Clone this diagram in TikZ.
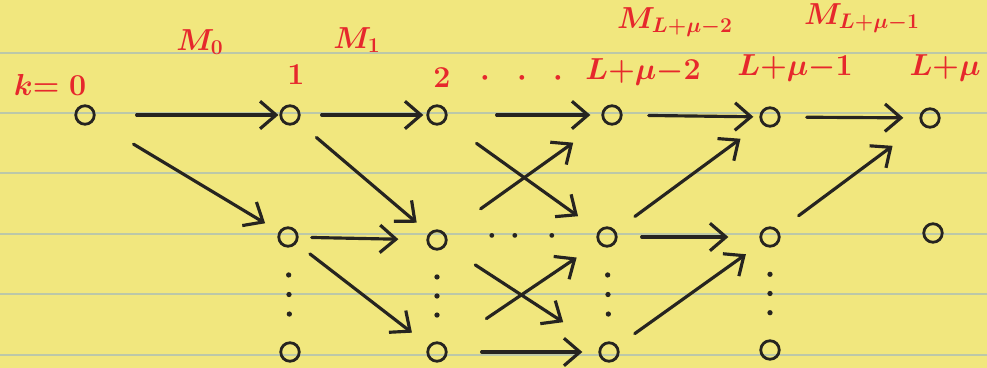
\documentclass[tikz,border=0pt]{standalone}
\usepackage{amsmath,amssymb}
\usepackage{xcolor}
\usepackage{tikz}
\usetikzlibrary{arrows.meta,positioning,calc}
\definecolor{Paper}{RGB}{241,231,126}
\definecolor{RuleC}{RGB}{188,200,168}
\definecolor{InkRed}{RGB}{230,40,44}
\definecolor{InkBk}{RGB}{38,36,32}
\tikzset{
  state/.style={circle,draw=InkBk,line width=1.6pt,minimum size=3.7mm,inner sep=0pt},
  br/.style={-{Straight Barb[length=3.2mm,width=5.5mm]},line width=1.8pt,InkBk,line cap=round},
  stagelbl/.style={text=InkRed,font=\fontsize{19}{22}\selectfont\boldmath},
  brlbl/.style={text=InkRed,font=\fontsize{18}{20}\selectfont\boldmath},
  ruleline/.style={RuleC,line width=0.8pt},
}

\begin{document}
\begin{tikzpicture}[x=0.02cm,y=-0.02cm]
  \fill[Paper] (0,0) rectangle (987,368);
  \useasboundingbox (0,0) rectangle (987,368);
  % ruled paper
  \foreach \y in {53,113,173,234,294,355}
    \draw[ruleline] (0,\y) -- (987,\y);

  % states
  \node[state] (s0t) at (85,115) {};
  \node[state] (s1t) at (290,115) {};
  \node[state] (s1m) at (288,237) {};
  \node[state] (s1b) at (290,352) {};
  \node[state] (s2t) at (437,115) {};
  \node[state] (s2m) at (437,240) {};
  \node[state] (s2b) at (437,352) {};
  \node[state] (s3t) at (612,115) {};
  \node[state] (s3m) at (607,237) {};
  \node[state] (s3b) at (609,352) {};
  \node[state] (s4t) at (770,117) {};
  \node[state] (s4m) at (770,237) {};
  \node[state] (s4b) at (770,350) {};
  \node[state] (s5t) at (930,118) {};
  \node[state] (s5m) at (933,233) {};

  % vertical dots
  \foreach \c in {1,...,4}
    \foreach \t in {0.33,0.5,0.67}
      \fill[InkBk] ($(s\c m)!\t!(s\c b)$) circle (1.5pt);
  \node[text=InkBk,font=\fontsize{19}{22}\selectfont\boldmath] (mdots) at (522,236) {$\cdot\,\cdot\;\;\cdot$};

  % stage labels
  \node[stagelbl] (k0) at (50,85) {$k{=}\;0$};
  \node[stagelbl] (k1) at (296,75) {$1$};
  \node[stagelbl] (k2) at (442,78) {$2$};
  \node[stagelbl] (kdots) at (522,78) {$\cdot\;\;\cdot\;\;\cdot$};
  \node[stagelbl] (kL2) at (643,72) {$L{+}\mu{-}2$};
  \node[stagelbl] (kL1) at (795,68) {$L{+}\mu{-}1$};
  \node[stagelbl] (kL) at (945,68) {$L{+}\mu$};

  % branch labels
  \node[brlbl] (m0) at (200,42) {$M_0$};
  \node[brlbl] (m1) at (357,40) {$M_1$};
  \node[brlbl] (mL2) at (675,22) {$M_{L{+}\mu{-}2}$};
  \node[brlbl] (mL1) at (862,18) {$M_{L{+}\mu{-}1}$};

  % branches
  \draw[br,shorten <=0.82cm,shorten >=0.5pt] (s0t) -- (s1t);
  \draw[br,shorten <=0.92cm,shorten >=0.32cm] (s0t) -- (s1m);
  \draw[br,shorten <=0.42cm,shorten >=0.06cm] (s1t) -- (s2t);
  \draw[br,shorten <=0.48cm,shorten >=0.32cm] (s1t) -- (s2m);
  \draw[br,shorten <=0.26cm,shorten >=0.56cm] (s1m) -- (s2m);
  \draw[br,shorten <=0.34cm,shorten >=0.42cm] (s1m) -- (s2b);
  \draw[br,shorten <=0.98cm,shorten >=0.22cm] (s2t) -- (s3t);
  \draw[br,shorten <=0.76cm,shorten >=0.50cm] (s2t) -- (s3m);
  \draw[br,shorten <=0.86cm,shorten >=0.74cm] (s2m) -- (s3t);
  \draw[br,shorten <=0.70cm,shorten >=0.88cm] (s2m) -- (s3b);
  \draw[br,shorten <=0.98cm,shorten >=0.52cm] (s2b) -- (s3m);
  \draw[br,shorten <=0.68cm,shorten >=0.32cm] (s2b) -- (s3b);
  \draw[br,shorten <=0.52cm,shorten >=0.12cm] (s3t) -- (s4t);
  \draw[br,shorten <=0.48cm,shorten >=0.52cm] (s3m) -- (s4t);
  \draw[br,shorten <=0.48cm,shorten >=0.62cm] (s3m) -- (s4m);
  \draw[br,shorten <=0.42cm,shorten >=0.38cm] (s3b) -- (s4m);
  \draw[br,shorten <=0.52cm,shorten >=0.32cm] (s4t) -- (s5t);
  \draw[br,shorten <=0.50cm,shorten >=0.72cm] (s4m) -- (s5t);
\end{tikzpicture}
\end{document}
